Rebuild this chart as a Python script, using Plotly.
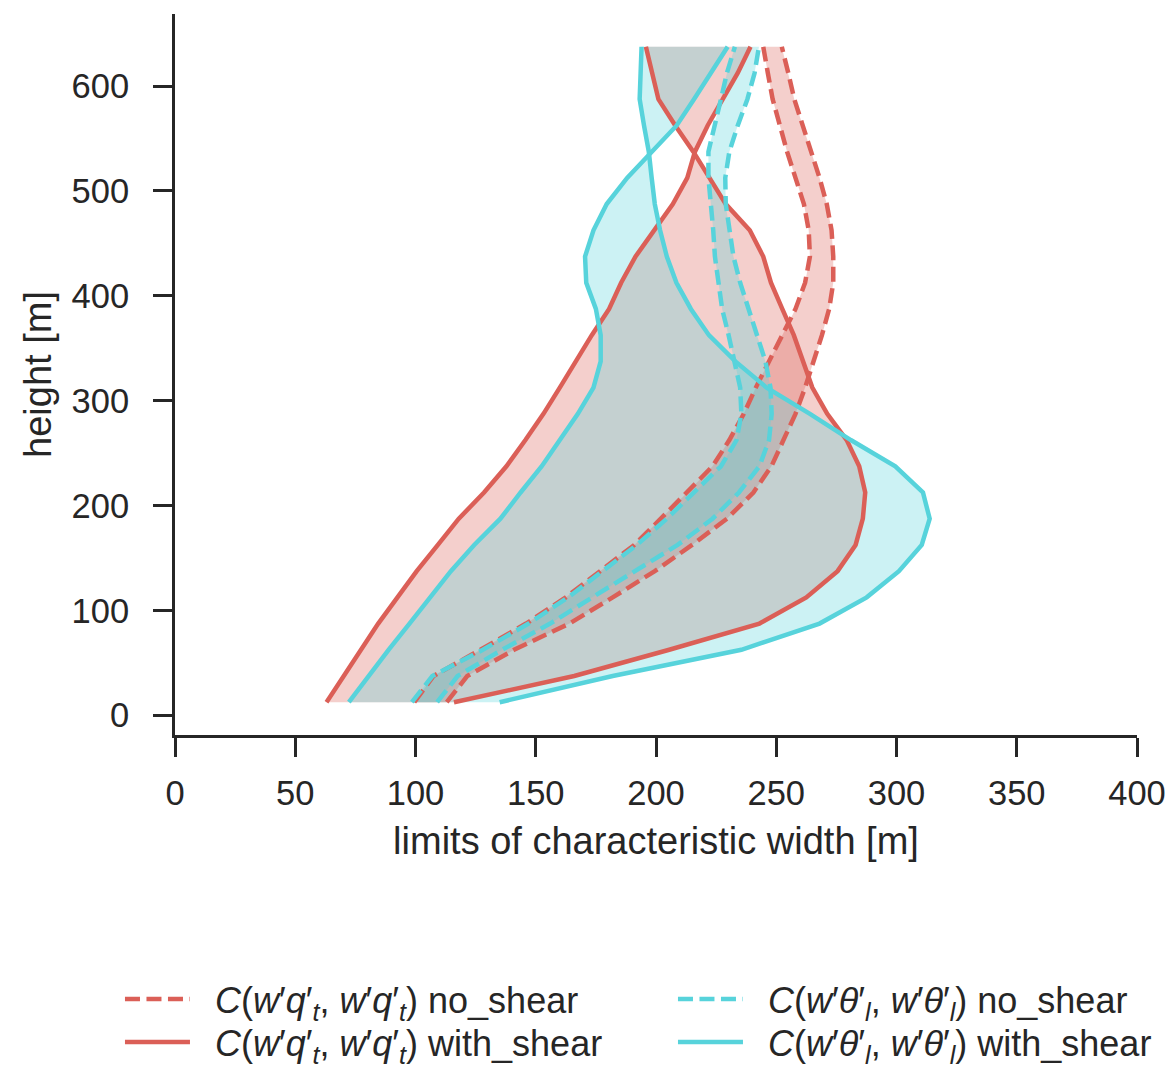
import plotly.graph_objects as go

# ---------------- data ----------------
heights = [12.5, 37.5, 62.5, 87.5, 112.5, 137.5, 162.5, 187.5, 212.5, 237.5,
           262.5, 287.5, 312.5, 337.5, 362.5, 387.5, 412.5, 437.5, 462.5, 487.5,
           512.5, 537.5, 562.5, 587.5, 612.5, 637.5]

qt_ns_lo = [99.5, 107.5, 127, 146, 162.5, 176.5, 191, 202, 213, 223.5,
            230.5, 236.5, 241.5, 247, 252.5, 258, 262, 264, 263.5, 261.5,
            258, 254.5, 251.5, 248.5, 246.5, 244.6]
qt_ns_hi = [113, 121.5, 141, 164, 182, 199.5, 215, 229.5, 240.5, 248,
            253, 258, 262, 265.5, 269, 272, 273.7, 273.7, 273, 271,
            268, 264.5, 261, 257.5, 255, 252.3]
qt_ws_lo = [63, 70, 77, 84.5, 92.5, 100.5, 109.3, 118, 128.5, 137.8,
            145.7, 153.2, 160, 166.5, 173.3, 180.5, 185.5, 191.5, 199.3, 207,
            213, 216.2, 221.5, 228, 234, 239.3]
qt_ws_hi = [116, 166, 205.5, 243, 262.5, 275.5, 283, 286, 287, 284.5,
            279.3, 271.2, 265, 261, 257.3, 252.5, 247.8, 244.6, 239, 229,
            222.4, 215.5, 208, 201, 198.4, 195.8]
th_ns_lo = [98.5, 107, 128, 147, 163.5, 178, 192, 204.5, 216, 227,
            233.5, 235.5, 235, 232.7, 230.2, 227.5, 226, 224.5, 223.8, 222.8,
            221.8, 221.8, 224.2, 227, 229.5, 232.8]
th_ns_hi = [109, 117.5, 136, 156, 173.5, 191, 209, 223.5, 234.5, 243,
            247, 248.1, 247.6, 245.5, 242, 238.5, 235, 232.2, 230.5, 229,
            228.8, 230.5, 234, 238, 241, 242.8]
th_ws_lo = [72.3, 80.5, 88.8, 97.5, 106.3, 114.7, 124.4, 135.3, 143.7, 152.5,
            160, 167.5, 174, 177, 177, 175, 171, 170.5, 174, 179.5,
            188, 198, 208.6, 215.8, 222.8, 229.8]
th_ws_hi = [135, 182, 235.5, 268, 287.6, 301, 310.5, 313.8, 311, 299.5,
            281, 264, 246, 233, 222, 214.5, 208.5, 204.5, 201.7, 199.5,
            198.2, 197, 195, 193.2, 193.6, 194]

x_ticks = [0, 50, 100, 150, 200, 250, 300, 350, 400]
y_ticks = [0, 100, 200, 300, 400, 500, 600]

QT = "<i>C</i>(<i>w</i>′<i>q</i>′<sub><i>t</i></sub>, <i>w</i>′<i>q</i>′<sub><i>t</i></sub>)"
TH = "<i>C</i>(<i>w</i>′<i>θ</i>′<sub><i>l</i></sub>, <i>w</i>′<i>θ</i>′<sub><i>l</i></sub>)"
PAD = "\u00a0\u00a0"

RED = "#db5f57"
CYAN = "#57d3db"
RED_FILL = "rgba(219,95,87,0.3)"
CYAN_FILL = "rgba(87,211,219,0.3)"
DASH = "15px,6.5px"

series = [
    (PAD + QT + " no_shear", qt_ns_lo, qt_ns_hi, RED, RED_FILL, DASH, "legend"),
    (PAD + QT + " with_shear", qt_ws_lo, qt_ws_hi, RED, RED_FILL, "solid", "legend2"),
    (PAD + TH + " no_shear", th_ns_lo, th_ns_hi, CYAN, CYAN_FILL, DASH, "legend"),
    (PAD + TH + " with_shear", th_ws_lo, th_ws_hi, CYAN, CYAN_FILL, "solid", "legend2"),
]

FONT = "Liberation Sans, Arial, Helvetica, sans-serif"
INK = "#262626"

fig = go.Figure()

# shaded bands first
for name, lo, hi, col, fcol, dash, leg in series:
    fig.add_trace(go.Scatter(
        x=list(lo) + list(hi)[::-1],
        y=list(heights) + list(heights)[::-1],
        mode="lines", fill="toself", fillcolor=fcol,
        line=dict(width=0, color=fcol),
        showlegend=False, hoverinfo="skip",
    ))

# boundary lines on top
for i, (name, lo, hi, col, fcol, dash, leg) in enumerate(series):
    for j, xs in enumerate((lo, hi)):
        fig.add_trace(go.Scatter(
            x=xs, y=heights, mode="lines",
            line=dict(color=col, width=4.5, dash=dash),
            name=name, legendgroup=f"g{i}", legend=leg,
            showlegend=(j == 0),
        ))

axis_common = dict(
    showline=True, linewidth=3, linecolor=INK,
    ticks="outside", ticklen=19, tickwidth=3, tickcolor=INK,
    showgrid=False, zeroline=False, mirror=False,
    tickfont=dict(family=FONT, size=34.5, color=INK),
)

fig.update_xaxes(
    range=[0, 400], tickvals=x_ticks, ticklabelstandoff=7,
    title=dict(text="limits of characteristic width [m]",
               font=dict(family=FONT, size=38, color=INK), standoff=16),
    **axis_common,
)
fig.update_yaxes(
    range=[-18.75, 668.75], tickvals=y_ticks, ticklabelstandoff=17,
    title=dict(text="height [m]",
               font=dict(family=FONT, size=38, color=INK), standoff=9),
    **axis_common,
)

legend_common = dict(
    orientation="h", xanchor="left",
    entrywidth=473, entrywidthmode="pixels",
    font=dict(family=FONT, size=36, color=INK),
    bgcolor="rgba(0,0,0,0)", borderwidth=0,
    itemwidth=65, traceorder="normal",
)

fig.update_layout(
    width=1168, height=1074,
    margin=dict(l=175, r=31, t=14, b=339, autoexpand=False),
    paper_bgcolor="white", plot_bgcolor="white",
    font=dict(family=FONT, color=INK),
    legend=dict(x=-0.0572, y=-0.3662, yanchor="middle", **legend_common),
    legend2=dict(x=-0.0572, y=-0.4675, yanchor="bottom", **legend_common),
)

fig.write_html(
    "out.html",
    config={"displayModeBar": False},
    post_script="document.body.style.margin='0';document.body.style.overflow='hidden';",
)
